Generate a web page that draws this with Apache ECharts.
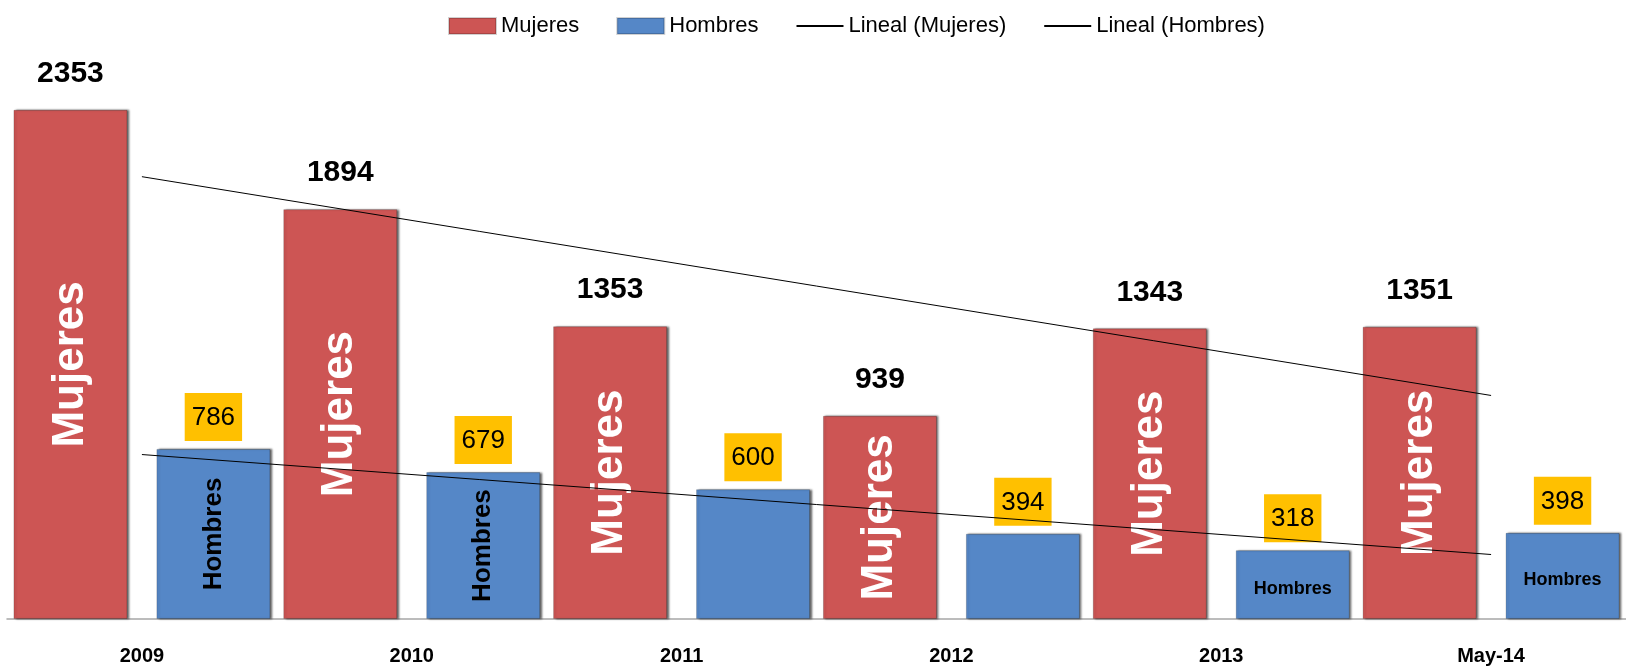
<!DOCTYPE html>
<html>
<head>
<meta charset="utf-8">
<script src="https://cdn.jsdelivr.net/npm/echarts@6/dist/echarts.min.js"></script>
<style>
html,body{margin:0;padding:0;background:#fff;}
#chart{width:1626px;height:668px;}
</style>
</head>
<body>
<div id="chart"></div>
<script>
// ---- data ----
const categories = ['2009', '2010', '2011', '2012', '2013', 'May-14'];
const mujeres = [2353, 1894, 1353, 939, 1343, 1351];
const hombres = [786, 679, 600, 394, 318, 398];
// linear trend lines (read at first and last category)
const trendMujeres = [2044, null, null, null, null, 1033];
const trendHombres = [760, null, null, null, null, 298];
// text written inside the bars
const mujeresInside = ['Mujeres', 'Mujeres', 'Mujeres', 'Mujeres', 'Mujeres', 'Mujeres'];
const hombresInside = ['Hombres', 'Hombres', '', '', 'Hombres', 'Hombres'];
const legendNames = ['Mujeres', 'Hombres', 'Lineal (Mujeres)', 'Lineal (Hombres)'];

// ---- styles ----
const FONT = '"Liberation Sans", Arial, sans-serif';
const RED = '#CD5554';
const BLUE = '#5587C7';
const BAR_W = 114;
const BAR_GAP = '25.4%';
const barShadow = {
  shadowColor: 'rgba(0,0,0,0.6)',
  shadowBlur: 2,
  shadowOffsetX: 2,
  shadowOffsetY: 0,
  borderColor: 'rgba(0,0,0,0.18)',
  borderWidth: 1
};

const hombresInsideData = hombres.map((v, i) => {
  const txt = hombresInside[i];
  if (!txt) return { value: v, label: { show: false } };
  const vertical = i < 2;
  return {
    value: v,
    label: {
      show: true,
      position: 'inside',
      rotate: vertical ? 90 : 0,
      offset: vertical ? [0, 0] : [0, 4],
      formatter: txt,
      color: '#000',
      fontWeight: 'bold',
      fontFamily: FONT,
      fontSize: vertical ? 26 : 18
    }
  };
});

const chart = echarts.init(document.getElementById('chart'), null, { renderer: 'canvas' });
chart.setOption({
  animation: false,
  backgroundColor: '#fff',
  legend: {
    data: [
      { name: legendNames[0], icon: 'rect' },
      { name: legendNames[1], icon: 'rect' },
      { name: legendNames[2], itemStyle: { opacity: 0 } },
      { name: legendNames[3], itemStyle: { opacity: 0 } }
    ],
    left: 443,
    top: 10,
    itemWidth: 47,
    itemHeight: 16,
    itemGap: 37,
    textStyle: { fontFamily: FONT, fontSize: 22, color: '#000' }
  },
  grid: { left: 7, width: 1625, top: 78, bottom: 49, containLabel: false },
  xAxis: [
    {
      type: 'category',
      data: categories,
      axisLine: { show: true, lineStyle: { color: '#A6A6A6', width: 1.5 } },
      axisTick: { show: false },
      axisLabel: { color: '#000', fontWeight: 'bold', fontSize: 20, fontFamily: FONT, margin: 27 }
    },
    {
      type: 'category',
      data: categories,
      show: false
    }
  ],
  yAxis: {
    type: 'value',
    min: 0,
    max: 2500,
    show: false,
    splitLine: { show: false }
  },
  series: [
    {
      name: 'Mujeres',
      type: 'bar',
      xAxisIndex: 0,
      data: mujeres,
      barWidth: BAR_W,
      barGap: BAR_GAP,
      itemStyle: Object.assign({ color: RED }, barShadow),
      label: {
        show: true,
        position: 'top',
        distance: 21,
        color: '#000',
        fontWeight: 'bold',
        fontSize: 30,
        fontFamily: FONT
      },
      z: 2
    },
    {
      name: 'Hombres',
      type: 'bar',
      xAxisIndex: 0,
      data: hombres,
      barWidth: BAR_W,
      barGap: BAR_GAP,
      itemStyle: Object.assign({ color: BLUE }, barShadow),
      label: {
        show: true,
        position: 'top',
        distance: 8,
        color: '#000',
        fontSize: 26,
        fontFamily: FONT,
        backgroundColor: '#FFC000',
        padding: [12, 7, 10, 7]
      },
      z: 2
    },
    {
      name: 'MujeresTexto',
      type: 'bar',
      xAxisIndex: 1,
      data: mujeres,
      barWidth: BAR_W,
      barGap: BAR_GAP,
      silent: true,
      itemStyle: { color: 'rgba(0,0,0,0)' },
      label: {
        show: true,
        position: 'inside',
        rotate: 90,
        formatter: p => mujeresInside[p.dataIndex],
        color: '#fff',
        fontWeight: 'bold',
        fontSize: 44,
        fontFamily: FONT
      },
      z: 3
    },
    {
      name: 'HombresTexto',
      type: 'bar',
      xAxisIndex: 1,
      data: hombresInsideData,
      barWidth: BAR_W,
      barGap: BAR_GAP,
      silent: true,
      itemStyle: { color: 'rgba(0,0,0,0)' },
      z: 3
    },
    {
      name: 'Lineal (Mujeres)',
      type: 'line',
      xAxisIndex: 0,
      data: trendMujeres,
      connectNulls: true,
      symbol: 'none',
      lineStyle: { color: '#000', width: 1 },
      itemStyle: { color: '#000' },
      z: 10
    },
    {
      name: 'Lineal (Hombres)',
      type: 'line',
      xAxisIndex: 0,
      data: trendHombres,
      connectNulls: true,
      symbol: 'none',
      lineStyle: { color: '#000', width: 1 },
      itemStyle: { color: '#000' },
      z: 10
    }
  ]
});
</script>
</body>
</html>
